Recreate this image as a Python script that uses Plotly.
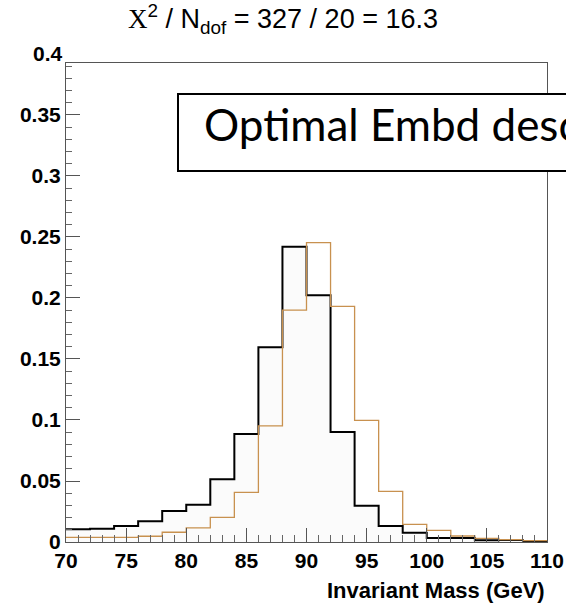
import plotly.graph_objects as go

# ---------------- data ----------------
bin_edges = [70, 72, 74, 76, 78, 80, 82, 84, 86, 88, 90,
             92, 94, 96, 98, 100, 102, 104, 106, 108, 110]
black_vals = [0.0104, 0.0109, 0.0131, 0.0170, 0.0254, 0.0306, 0.0514, 0.0885,
              0.1596, 0.2420, 0.2022, 0.0902, 0.0298, 0.0131, 0.0076, 0.0033,
              0.0033, 0.0014, 0.0016, 0.0004]
orange_vals = [0.0038, 0.0038, 0.0038, 0.0047, 0.0080, 0.0115, 0.0202, 0.0407,
               0.0951, 0.1900, 0.2453, 0.1932, 0.0997, 0.0415, 0.0145, 0.0096,
               0.0049, 0.0030, 0.0019, 0.0011]
x_tick_vals = [70, 75, 80, 85, 90, 95, 100, 105, 110]
x_tick_text = ["70", "75", "80", "85", "90", "95", "100", "105", "110"]
y_tick_vals = [0, 0.05, 0.1, 0.15, 0.2, 0.25, 0.3, 0.35]
y_tick_text = ["0", "0.05", "0.1", "0.15", "0.2", "0.25", "0.3", "0.35"]
y_top_label = "0.4"
title_text = ("<span style='font-family:Liberation Serif'>Χ</span><sup>2</sup>"
              " / N<sub>dof</sub> = 327 / 20 = 16.3")
x_title = "Invariant Mass (GeV)"
box_text = "Optimal Embd desc"

# ---------------- geometry ----------------
W, H = 566, 605
L, R, T, B = 66, 19, 63, 63
PW, PH = W - L - R, H - T - B
Y_MAX = 0.3926


def px_x(px):
    return (px - L) / PW


def px_y(py):
    return (H - B - py) / PH


def steps(vals):
    return vals + [vals[-1]]


fig = go.Figure()
fig.add_trace(go.Scatter(
    x=bin_edges, y=steps(black_vals), mode="lines", line_shape="hv",
    line=dict(color="#000000", width=2), fill="tozeroy",
    fillcolor="#fbfbfb", hoverinfo="skip", showlegend=False))
fig.add_trace(go.Scatter(
    x=bin_edges, y=steps(orange_vals), mode="lines", line_shape="hv",
    line=dict(color="#c8914f", width=1.3), hoverinfo="skip",
    showlegend=False))

tickfont = dict(family="Liberation Sans", size=21, color="#000000")
fig.update_xaxes(
    range=[70, 110], tickvals=x_tick_vals,
    ticktext=["<b>" + t + "</b>" for t in x_tick_text],
    ticks="inside", ticklen=14, tickwidth=1, tickcolor="#555555",
    minor=dict(dtick=1, ticks="inside", ticklen=7, tickcolor="#666666",
               tickwidth=1),
    showline=True, linecolor="#555555", linewidth=1, mirror=True,
    showgrid=False, zeroline=False, tickfont=tickfont, automargin=False)
fig.update_yaxes(
    range=[0, Y_MAX], tickvals=y_tick_vals,
    ticktext=["<b>" + t + "</b>" for t in y_tick_text],
    ticks="inside", ticklen=14, tickwidth=1, tickcolor="#555555",
    minor=dict(dtick=0.01, ticks="inside", ticklen=6, tickcolor="#666666",
               tickwidth=1),
    showline=True, linecolor="#555555", linewidth=1, mirror=True,
    showgrid=False, zeroline=False, tickfont=tickfont, automargin=False,
    ticklabelstandoff=0)

annotations = [
    dict(text="<b>" + y_top_label + "</b>", xref="paper", yref="y domain",
         x=0, y=0.4 / Y_MAX, xanchor="right", yanchor="middle", xshift=-1,
         showarrow=False, font=tickfont),
    dict(text="<b>" + x_title + "</b>", xref="paper", yref="paper",
         x=1, y=0, xanchor="right", yanchor="middle", yshift=-48,
         showarrow=False,
         font=dict(family="Liberation Sans", size=22, color="#000000")),
    dict(text=box_text, xref="paper", yref="paper",
         x=px_x(202), y=px_y(124), xanchor="left", yanchor="middle",
         showarrow=False,
         font=dict(family="Lato", size=44, color="#000000")),
]

shapes = [
    dict(type="rect", xref="paper", yref="paper",
         x0=px_x(178), x1=px_x(620), y0=px_y(171), y1=px_y(94),
         line=dict(color="#000000", width=2), fillcolor="#ffffff",
         layer="above"),
]

fig.update_layout(
    width=W, height=H, autosize=False,
    margin=dict(l=L, r=R, t=T, b=B, pad=0, autoexpand=False),
    paper_bgcolor="#ffffff", plot_bgcolor="#ffffff",
    font=dict(family="Liberation Sans", color="#000000"),
    title=dict(text=title_text, xref="container", yref="container",
               x=0.5, y=1 - 19 / H, xanchor="center", yanchor="middle",
               font=dict(family="Liberation Sans", size=27,
                         color="#000000")),
    annotations=annotations, shapes=shapes,
)

fig.write_html("out.html")
